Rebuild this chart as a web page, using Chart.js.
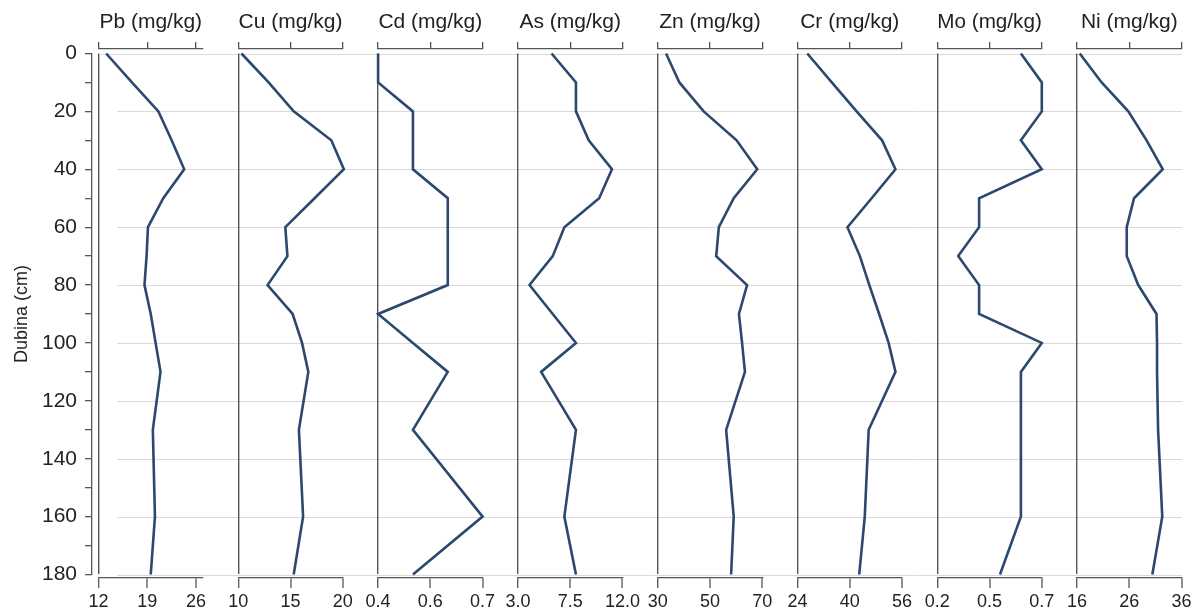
<!DOCTYPE html>
<html>
<head>
<meta charset="utf-8">
<script src="https://cdn.jsdelivr.net/npm/chart.js@4/dist/chart.umd.min.js"></script>
<style>
html,body{margin:0;padding:0;background:#fff;}
#wrap{width:1195px;height:611px;}
</style>
</head>
<body>
<div id="wrap"><canvas id="c" width="1195" height="611"></canvas></div>
<script>
// ---------- data ----------
const depths = [0, 10, 20, 30, 40, 50, 60, 70, 80, 90, 100, 110, 130, 160, 180];
const elements = ['Pb', 'Cu', 'Cd', 'As', 'Zn', 'Cr', 'Mo', 'Ni'];
const unitLabel = '(mg/kg)';
const depthTitle = 'Dubina (cm)';

const pbValues = [13.1, 16.8, 20.6, 22.5, 24.3, 21.3, 19.1, 18.9, 18.6, 19.5, 20.2, 20.9, 19.8, 20.1, 19.5];
const cuValues = [10.3, 12.9, 15.3, 18.9, 20.1, 17.3, 14.5, 14.7, 12.8, 15.2, 16.1, 16.7, 15.8, 16.2, 15.3];
const cdValues = [0.4, 0.4, 0.5, 0.5, 0.5, 0.6, 0.6, 0.6, 0.6, 0.4, 0.5, 0.6, 0.5, 0.7, 0.5];
const asValues = [5.9, 8.0, 8.0, 9.1, 11.1, 10.0, 7.0, 6.0, 4.0, 6.0, 8.0, 5.0, 8.0, 7.0, 8.0];
const znValues = [33.2, 38.3, 47.6, 60.2, 68.1, 59.1, 53.4, 52.4, 64.2, 61.1, 62.3, 63.4, 56.2, 59.1, 58.1];
const crValues = [27.0, 34.5, 42.1, 49.9, 54.0, 46.7, 39.3, 43.1, 46.0, 49.0, 51.9, 54.0, 45.8, 44.6, 42.9];
const moValues = [0.6, 0.7, 0.7, 0.6, 0.7, 0.4, 0.4, 0.3, 0.4, 0.4, 0.7, 0.6, 0.6, 0.6, 0.5];
const niValues = [16.5, 20.7, 25.8, 29.3, 32.4, 26.9, 25.5, 25.5, 27.7, 31.2, 31.3, 31.3, 31.5, 32.3, 30.4];

const axisMin = [12, 10, 0.4, 3, 30, 24, 0.2, 16];
const axisMax = [27, 20, 0.7, 12, 70, 56, 0.7, 36];
const tickValues = [[12, 19, 26], [10, 15, 20], [0.4, 0.55, 0.7], [3, 7.5, 12], [30, 50, 70], [24, 40, 56], [0.2, 0.45, 0.7], [16, 26, 36]];
const tickLabels = [['12', '19', '26'], ['10', '15', '20'], ['0.4', '0.6', '0.7'], ['3.0', '7.5', '12.0'], ['30', '50', '70'], ['24', '40', '56'], ['0.2', '0.5', '0.7'], ['16', '26', '36']];
const depthTickValues = [0, 10, 20, 30, 40, 50, 60, 70, 80, 90, 100, 110, 120, 130, 140, 150, 160, 170, 180];
const depthMin = 0, depthMax = 180;

const seriesValues = [pbValues, cuValues, cdValues, asValues, znValues, crValues, moValues, niValues];

// ---------- layout / style ----------
const FONT = '"Liberation Sans", Arial, Helvetica, sans-serif';
const PANEL_LEFT0 = 98.5, PANEL_STEP = 139.8, PANEL_W = 104.5;
const PLOT_TOP = 53.5, PLOT_BOTTOM = 574.5;
const Y_AXIS_X = 92, Y_SCALE_LEFT = 7;
const TOP_AXIS_Y = 49, TOP_SCALE_TOP = 10;
const BOTTOM_AXIS_Y = 578;
const GRID_X0 = 117, GRID_X1 = 1182;
const AXIS_COLOR = '#555555';
const GRID_COLOR = '#d9d9d9';
const LINE_COLOR = '#2d486e';
const TEXT_COLOR = '#222222';

function place(s, l, t, r, b) {
  s.left = l; s.top = t; s.right = r; s.bottom = b;
  s.width = r - l; s.height = b - t;
  s._labelItems = null; s._gridLineItems = null;
  s.configure();
}

const panelLayout = {
  id: 'panelLayout',
  afterLayout(chart) {
    const ca = chart.chartArea;
    ca.left = Y_AXIS_X; ca.right = GRID_X1; ca.top = PLOT_TOP; ca.bottom = PLOT_BOTTOM;
    ca.width = ca.right - ca.left; ca.height = ca.bottom - ca.top;
    place(chart.scales.y, Y_SCALE_LEFT, PLOT_TOP, Y_AXIS_X, PLOT_BOTTOM);
    elements.forEach((e, i) => {
      const l = PANEL_LEFT0 + i * PANEL_STEP;
      place(chart.scales['t' + i], l, TOP_SCALE_TOP, l + PANEL_W, TOP_AXIS_Y);
      place(chart.scales['b' + i], l, BOTTOM_AXIS_Y, l + PANEL_W, 611);
    });
  },
  beforeDraw(chart) {
    const ctx = chart.ctx;
    ctx.save();
    ctx.fillStyle = '#ffffff';
    ctx.fillRect(0, 0, chart.width, chart.height);
    const y = chart.scales.y;
    ctx.strokeStyle = GRID_COLOR;
    ctx.lineWidth = 1;
    y.ticks.forEach(t => {
      if (t.value % 20 !== 0) return;
      const py = Math.round(y.getPixelForValue(t.value)) + 0.5;
      ctx.beginPath();
      ctx.moveTo(t.value === depthMin ? PANEL_LEFT0 + 2 : GRID_X0, py);
      ctx.lineTo(GRID_X1, py);
      ctx.stroke();
    });
    ctx.restore();
  }
};

const scales = {
  y: {
    type: 'linear', position: 'left', reverse: true, min: depthMin, max: depthMax,
    afterBuildTicks: s => { s.ticks = depthTickValues.map(v => ({ value: v })); },
    ticks: {
      callback: v => (v % 20 === 0 ? String(v) : ''),
      font: { family: FONT, size: 21 }, color: TEXT_COLOR, padding: 8, autoSkip: false
    },
    grid: { drawOnChartArea: false, drawTicks: true, tickLength: 7, tickColor: AXIS_COLOR, tickWidth: 1.3, lineWidth: 1.3, color: AXIS_COLOR },
    border: { display: true, color: AXIS_COLOR, width: 1.3 },
    title: { display: true, text: depthTitle, font: { family: FONT, size: 18 }, color: TEXT_COLOR, padding: { top: 4, bottom: 4 } }
  }
};

elements.forEach((el, i) => {
  scales['t' + i] = {
    type: 'linear', position: 'top', min: axisMin[i], max: axisMax[i],
    afterBuildTicks: s => { s.ticks = tickValues[i].map(v => ({ value: v })); },
    afterFit: s => { s.height = 0; },
    ticks: { callback: () => '', autoSkip: false, maxRotation: 0, font: { family: FONT, size: 1 } },
    grid: { drawOnChartArea: false, drawTicks: true, tickLength: 7, tickColor: AXIS_COLOR, tickWidth: 1.3, lineWidth: 1.3, color: AXIS_COLOR },
    border: { display: true, color: AXIS_COLOR, width: 1.3 },
    title: { display: true, text: el + ' ' + unitLabel, font: { family: FONT, size: 21 }, color: TEXT_COLOR, padding: 0 }
  };
  scales['b' + i] = {
    type: 'linear', position: 'bottom', min: axisMin[i], max: axisMax[i],
    afterBuildTicks: s => { s.ticks = tickValues[i].map(v => ({ value: v })); },
    afterFit: s => { s.height = 0; },
    ticks: {
      callback: (v, idx) => tickLabels[i][idx],
      autoSkip: false, maxRotation: 0, minRotation: 0,
      font: { family: FONT, size: 18 }, color: TEXT_COLOR, padding: 3
    },
    grid: {
      drawOnChartArea: true, drawTicks: true, tickLength: 10,
      color: c => (c.index === 0 ? AXIS_COLOR : 'rgba(0,0,0,0)'),
      lineWidth: c => (c.index === 0 ? 1.4 : 0),
      tickColor: AXIS_COLOR, tickWidth: 1.3
    },
    border: { display: true, color: AXIS_COLOR, width: 1.3 }
  };
});

const datasets = elements.map((el, i) => ({
  label: el,
  data: depths.map((d, j) => ({ x: seriesValues[i][j], y: d })),
  xAxisID: 'b' + i,
  yAxisID: 'y',
  showLine: true,
  borderColor: LINE_COLOR,
  backgroundColor: LINE_COLOR,
  borderWidth: 2.6,
  pointRadius: 0,
  pointHoverRadius: 0,
  tension: 0,
  fill: false,
  clip: false,
  borderJoinStyle: 'miter'
}));

new Chart(document.getElementById('c'), {
  type: 'scatter',
  data: { datasets },
  options: {
    responsive: false,
    devicePixelRatio: 1,
    animation: false,
    events: [],
    layout: { padding: 0 },
    plugins: { legend: { display: false }, tooltip: { enabled: false } },
    scales
  },
  plugins: [panelLayout]
});
</script>
</body>
</html>
